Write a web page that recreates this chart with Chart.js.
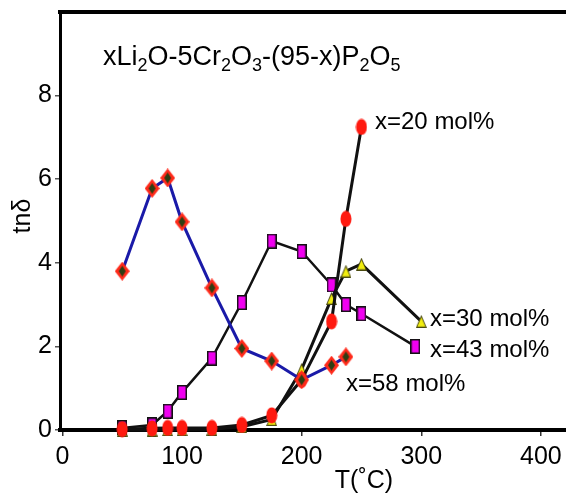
<!DOCTYPE html>
<html>
<head>
<meta charset="utf-8">
<script src="https://cdn.jsdelivr.net/npm/chart.js@4"></script>
<style>
html,body{margin:0;padding:0;background:#fff;overflow:hidden}
canvas{display:block}
</style>
</head>
<body>
<canvas id="c" width="566" height="497" style="width:566px;height:497px"></canvas>
<script>
const FONT='"Liberation Sans",Arial,Helvetica,sans-serif';
Chart.defaults.font.family=FONT;
Chart.defaults.color="#000";

// temperatures (°C) and tan delta per composition
const T58=[50,75,88,100,125,150,175,200,225,237];
const Y58=[3.8,5.78,6.03,4.98,3.4,1.95,1.65,1.2,1.55,1.75];
const T43=[50,75,88,100,125,150,175,200,225,237,250,295];
const Y43=[0.05,0.12,0.45,0.9,1.72,3.05,4.52,4.27,3.47,3.0,2.78,2.0];
const T30=[50,75,88,100,125,150,175,200,225,237,250,300];
const Y30=[0,0,0.01,0.01,0.02,0.08,0.25,1.45,3.15,3.8,3.97,2.6];
const T20=[50,75,88,100,125,150,175,200,225,237,250];
const Y20=[0.02,0.04,0.05,0.05,0.05,0.12,0.35,1.2,2.6,5.05,7.25];
const X_TICKS=[0,100,200,300,400];
const Y_TICKS=[0,2,4,6,8];
const LABELS=["x=20 mol%","x=30 mol%","x=43 mol%","x=58 mol%"];

const pts=(xs,ys)=>xs.map((x,i)=>({x,y:ys[i]}));

// marker images
function mk(w,h,draw){const c=document.createElement("canvas");c.width=w;c.height=h;draw(c.getContext("2d"),w,h);return c;}
const diamond=mk(15,19,(g,w,h)=>{
  g.fillStyle="#ff2a1a";g.beginPath();g.moveTo(w/2,0);g.lineTo(w,h/2);g.lineTo(w/2,h);g.lineTo(0,h/2);g.closePath();g.fill();
  g.fillStyle="#2f3d12";g.beginPath();g.moveTo(w/2,4);g.lineTo(w-4,h/2);g.lineTo(w/2,h-4);g.lineTo(4,h/2);g.closePath();g.fill();
});
const oval=mk(12,17,(g,w,h)=>{
  g.fillStyle="#ff1a10";g.beginPath();g.ellipse(w/2,h/2,w/2-0.5,h/2-0.5,0,0,Math.PI*2);g.fill();
});
const square=mk(10,15,(g,w,h)=>{
  g.fillStyle="#111";g.fillRect(0,0,w,h);g.fillStyle="#f000f0";g.fillRect(1.5,1.5,w-3,h-3);
});
const tri=mk(11,13,(g,w,h)=>{
  g.fillStyle="#4a4a10";g.beginPath();g.moveTo(w/2,0);g.lineTo(w,h);g.lineTo(0,h);g.closePath();g.fill();
  g.fillStyle="#f2ee10";g.beginPath();g.moveTo(w/2,2.5);g.lineTo(w-1.5,h-1.2);g.lineTo(1.5,h-1.2);g.closePath();g.fill();
});

const deco={
  id:"deco",
  afterDraw(chart){
    const g=chart.ctx,a=chart.chartArea;
    g.save();
    // top frame line
    g.strokeStyle="#000";g.lineWidth=4;
    g.beginPath();g.moveTo(a.left-2,a.top);g.lineTo(566,a.top);g.stroke();
    g.fillStyle="#000";g.textBaseline="alphabetic";
    // title with subscripts
    const parts=[["xLi",0],["2",1],["O-5Cr",0],["2",1],["O",0],["3",1],["-(95-x)P",0],["2",1],["O",0],["5",1]];
    let x=103;const base=65;
    for(const [s,sub] of parts){
      g.font=(sub?"18px ":"27px ")+FONT;
      g.fillText(s,x,base+(sub?6:0));
      x+=g.measureText(s).width;
    }
    // series labels
    g.font="24px "+FONT;g.textBaseline="middle";
    g.fillText(LABELS[0],375,122);
    g.fillText(LABELS[1],430,319);
    g.fillText(LABELS[2],430,350);
    g.fillText(LABELS[3],346,384);
    // axis titles
    g.font="25px "+FONT;g.textAlign="center";
    g.fillText("T(\u02DAC)",364,481);
    g.translate(23,216);g.rotate(-Math.PI/2);
    g.fillText("tn\u03B4",0,0);
    g.restore();
  }
};

const black="#111";
new Chart(document.getElementById("c"),{
  type:"line",
  data:{datasets:[
    {label:LABELS[3],data:pts(T58,Y58),borderColor:"#1a1aa8",borderWidth:3,pointStyle:diamond,pointRadius:8,clip:false},
    {label:LABELS[0],data:pts(T20,Y20),borderColor:black,borderWidth:3,pointStyle:oval,pointRadius:8,clip:false},
    {label:LABELS[1],data:pts(T30,Y30),borderColor:black,borderWidth:3,pointStyle:tri,pointRadius:7,clip:false},
    {label:LABELS[2],data:pts(T43,Y43),borderColor:black,borderWidth:2.5,pointStyle:square,pointRadius:8,clip:false},
  ]},
  options:{
    responsive:false,animation:false,devicePixelRatio:1,
    layout:{autoPadding:false,padding:{top:12,right:0,left:0,bottom:0}},
    plugins:{legend:{display:false},tooltip:{enabled:false}},
    scales:{
      x:{type:"linear",min:-2,max:421,
        afterFit:s=>{s.height=67;s.paddingLeft=0;s.paddingRight=0;},
        afterBuildTicks:s=>{s.ticks=X_TICKS.map(v=>({value:v}));},
        border:{color:"#000",width:4},
        grid:{drawOnChartArea:false,tickLength:6,color:"#333",lineWidth:1.5},
        ticks:{font:{size:25},padding:6,maxRotation:0,color:"#000"}},
      y:{min:0,max:10,
        afterFit:s=>{s.width=60;s.paddingTop=0;s.paddingBottom=0;},
        afterBuildTicks:s=>{s.ticks=Y_TICKS.map(v=>({value:v}));},
        border:{color:"#000",width:3},
        grid:{drawOnChartArea:false,tickLength:5,color:"#555",lineWidth:1.5},
        ticks:{font:{size:25},padding:3,color:"#000"}}
    }
  },
  plugins:[deco]
});
</script>
</body>
</html>
